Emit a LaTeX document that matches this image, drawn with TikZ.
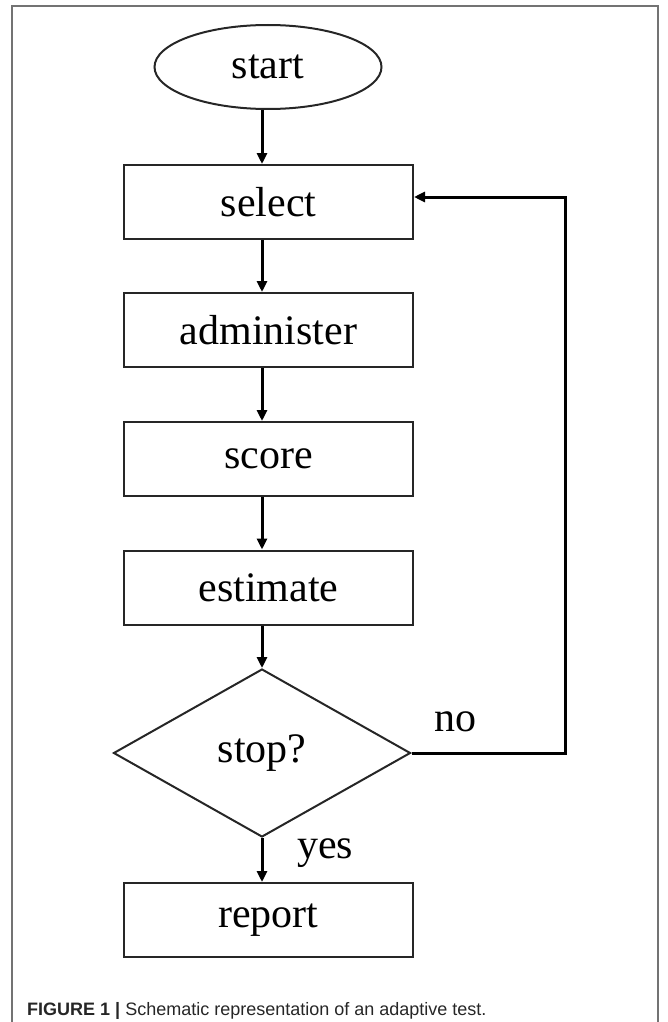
\documentclass[tikz,border=0pt]{standalone}
\usepackage{fontspec}
\setmainfont{Liberation Serif}
\setsansfont{Liberation Sans}
\usetikzlibrary{shapes.geometric,arrows.meta}

\begin{document}
\begin{tikzpicture}[x=1pt,y=-1pt,
  stepbox/.style={draw=black!85,line width=2pt,rectangle,minimum width=289pt,minimum height=74pt,inner sep=0pt,font=\fontsize{42}{48}\selectfont},
  flow/.style={line width=3pt,-{Triangle[length=11pt,width=10pt]}}]

%Define layout parameters
\def\bx{268.5}       %centre of the boxes.
\def\lx{565}         %x of the return line.

% Page and frame
\useasboundingbox (0,0) rectangle (667,1022);
\draw[black!55,line width=1.5pt] (12,1022) -- (12,6) -- (658,6) -- (658,1022);

% Nodes
\node[draw=black!85,line width=2pt,ellipse,minimum width=227pt,minimum height=84pt,inner sep=0pt,font=\fontsize{42}{48}\selectfont] (start) at (268,67) {start};
\node[stepbox] (select) at (\bx,202) {select};
\node[stepbox] (administer) at (\bx,330) {administer};
\node[stepbox] (score) at (\bx,459) {score};
\node[stepbox] (estimate) at (\bx,587.5) {estimate};
\node[draw=black!85,line width=2pt,diamond,minimum width=297pt,minimum height=168pt,inner sep=0pt,font=\fontsize{42}{48}\selectfont] (stop) at (262,753) {stop?};
\node[stepbox] (report) at (\bx,920) {report};

% Arrows down the chain
\draw[flow] (start.south -| stop) -- (select.north -| stop);
\draw[flow] (select.south -| stop) -- (administer.north -| stop);
\draw[flow] (administer.south -| stop) -- (score.north -| stop);
\draw[flow] (score.south -| stop) -- (estimate.north -| stop);
\draw[flow] (estimate.south -| stop) -- (stop.north);
\draw[flow] (stop.south) -- (report.north -| stop);

% Return line
\coordinate (back) at (\lx,197);
\draw[flow] (stop.east) -| (back) -- (select.east |- back);

% Labels
\node[font=\fontsize{42}{48}\selectfont] (no) at (455,722) {no};
\node[font=\fontsize{42}{48}\selectfont] (yes) at (325,853) {yes};

% Caption
\node[anchor=base west,inner sep=0pt,font=\sffamily\fontsize{18}{21}\selectfont,text=black!85] (caption) at (27,1015)
  {\textbf{FIGURE 1 |} Schematic representation of an adaptive test.};

\end{tikzpicture}
\end{document}
